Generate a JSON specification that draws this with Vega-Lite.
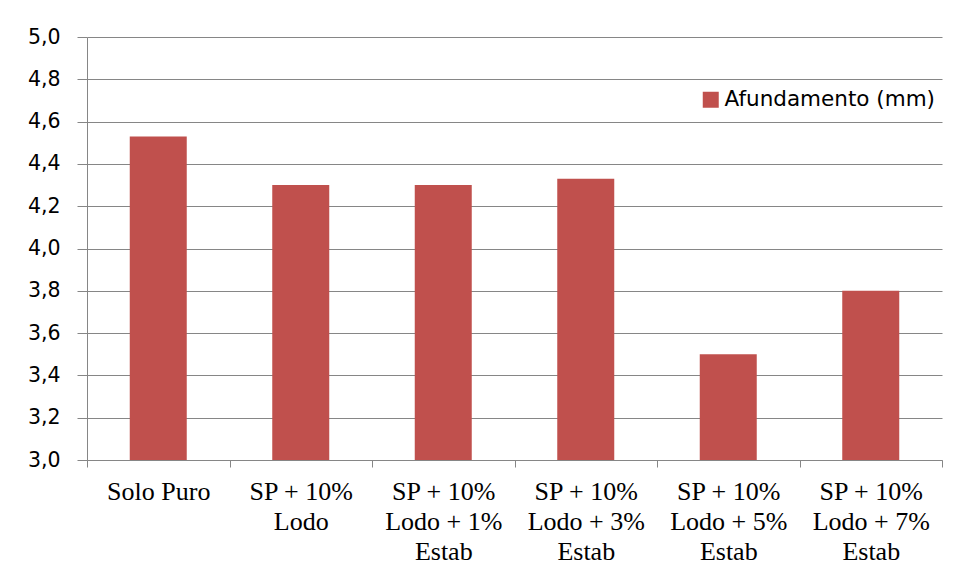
{
  "$schema": "https://vega.github.io/schema/vega-lite/v6.json",
  "autosize": "none",
  "width": 855,
  "height": 423,
  "padding": {"left": 87, "top": 37, "right": 16, "bottom": 121},
  "background": "white",
  "config": {"view": {"stroke": null}},
  "data": {
    "values": [
      {"grupo": "Solo Puro", "afundamento": 4.53, "serie": "Afundamento (mm)"},
      {"grupo": "SP + 10%\nLodo", "afundamento": 4.30, "serie": "Afundamento (mm)"},
      {"grupo": "SP + 10%\nLodo + 1%\nEstab", "afundamento": 4.30, "serie": "Afundamento (mm)"},
      {"grupo": "SP + 10%\nLodo + 3%\nEstab", "afundamento": 4.33, "serie": "Afundamento (mm)"},
      {"grupo": "SP + 10%\nLodo + 5%\nEstab", "afundamento": 3.50, "serie": "Afundamento (mm)"},
      {"grupo": "SP + 10%\nLodo + 7%\nEstab", "afundamento": 3.80, "serie": "Afundamento (mm)"}
    ]
  },
  "mark": {"type": "bar", "width": {"band": 0.4}, "clip": true},
  "encoding": {
    "x": {
      "field": "grupo",
      "type": "nominal",
      "sort": null,
      "scale": {"paddingInner": 0, "paddingOuter": 0},
      "axis": {
        "title": null,
        "labelAngle": 0,
        "labelExpr": "split(datum.label, '\\n')",
        "labelFont": "Liberation Serif",
        "labelFontSize": 26,
        "labelFontWeight": "normal",
        "labelLineHeight": 30,
        "labelColor": "black",
        "labelPadding": 11,
        "labelBaseline": "top",
        "tickBand": "extent",
        "tickSize": 7,
        "tickColor": "#868686",
        "domainColor": "#868686",
        "domainWidth": 1,
        "tickWidth": 1,
        "grid": false
      }
    },
    "y": {
      "field": "afundamento",
      "type": "quantitative",
      "scale": {"domain": [3, 5], "nice": false, "zero": false},
      "axis": {
        "title": null,
        "values": [3, 3.2, 3.4, 3.6, 3.8, 4, 4.2, 4.4, 4.6, 4.8, 5],
        "labelExpr": "replace(format(datum.value, '.1f'), '.', ',')",
        "labelFont": "DejaVu Sans",
        "labelFontSize": 20.5,
        "labelColor": "black",
        "labelPadding": 17,
        "tickSize": 10,
        "tickColor": "#868686",
        "domainColor": "#868686",
        "gridColor": "#868686",
        "gridWidth": 1,
        "grid": true
      }
    },
    "color": {
      "field": "serie",
      "type": "nominal",
      "scale": {"range": ["#C0504D"]},
      "legend": {
        "title": null,
        "orient": "none",
        "legendX": 613,
        "legendY": 52,
        "padding": 0,
        "symbolType": "square",
        "symbolSize": 256,
        "symbolStrokeWidth": 0,
        "symbolOpacity": 1,
        "labelFont": "DejaVu Sans",
        "labelFontSize": 21.5,
        "labelColor": "black",
        "labelOffset": 3,
        "labelLimit": 0
      }
    }
  }
}
